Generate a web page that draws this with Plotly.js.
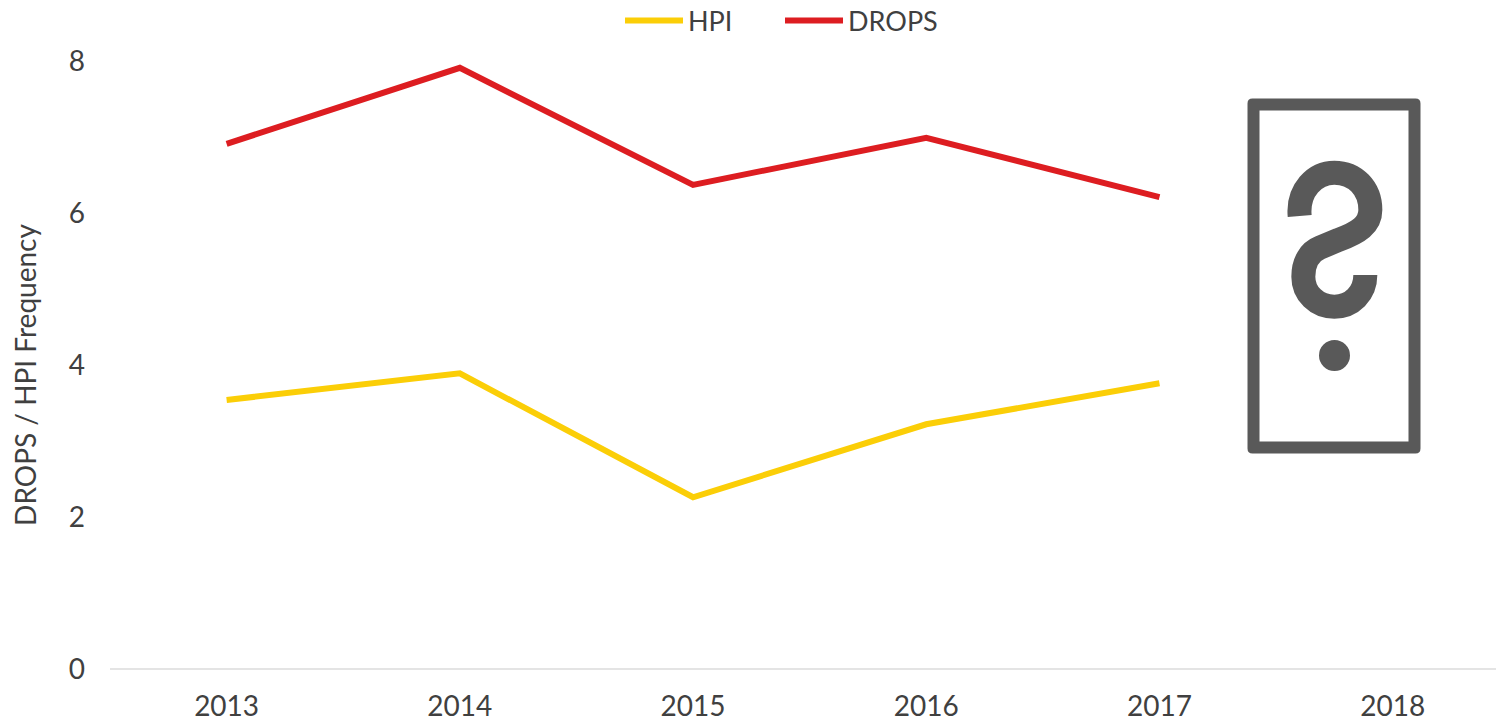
<!DOCTYPE html>
<html><head><meta charset="utf-8">
<script src="https://cdn.plot.ly/plotly-3.0.1.min.js"></script>
<style>html,body{margin:0;padding:0;background:#fff;overflow:hidden}#c{width:1496px;height:721px}</style>
</head><body><div id="c"></div>
<script>
const years = ['2013','2014','2015','2016','2017','2018'];
const hpi = [3.54,3.89,2.26,3.22,3.76,null];
const drops = [6.91,7.91,6.37,6.99,6.21,null];
const yTicks = [0,2,4,6,8];
const W=1496,H=721,L=110,R=0,T=61,B=32;
const px=x=>((x-L)/(W-L-R)).toFixed(5);
const py=y=>((H-B-y)/(H-T-B)).toFixed(5);
const P=(x,y)=>px(x)+','+py(y);
const Z=(zx,zy)=>P(1220+zx/3,80+zy/3);
const iconColor='#595959';
function rounded(x0,y0,x1,y1,r){
  return 'M'+P(x0+r,y0)+' L'+P(x1-r,y0)+' Q'+P(x1,y0)+' '+P(x1,y0+r)+' L'+P(x1,y1-r)+' Q'+P(x1,y1)+' '+P(x1-r,y1)+
   ' L'+P(x0+r,y1)+' Q'+P(x0,y1)+' '+P(x0,y1-r)+' L'+P(x0,y0+r)+' Q'+P(x0,y0)+' '+P(x0+r,y0)+' Z';
}
const frame=rounded(1247.5,98.5,1420.5,453.5,5)+' M'+P(1259.5,110.5)+' L'+P(1408.5,110.5)+' L'+P(1408.5,441.5)+' L'+P(1259.5,441.5)+' Z';
const hook='M'+Z(239,408)+' C'+Z(232,330)+' '+Z(285,278)+' '+Z(343,278)+' C'+Z(405,278)+' '+Z(451,325)+' '+Z(451,390)+
 ' C'+Z(451,435)+' '+Z(415,458)+' '+Z(355,480)+' L'+Z(300,503)+' C'+Z(270,515)+' '+Z(250,545)+' '+Z(250,590)+
 ' C'+Z(250,640)+' '+Z(290,680)+' '+Z(343,680)+' C'+Z(395,680)+' '+Z(436,640)+' '+Z(436,585);
const base={xref:'paper',yref:'paper',layer:'above'};
const shapes=[
 {...base,type:'path',path:frame,fillcolor:iconColor,line:{width:0}},
 {...base,type:'path',path:hook,line:{color:iconColor,width:24},fillcolor:'rgba(0,0,0,0)'},
 {...base,type:'circle',x0:px(1319),x1:px(1350),y0:py(371),y1:py(340),fillcolor:iconColor,line:{width:0}}
];
const font='Lato, "Open Sans", sans-serif', txt='#404040';
const traces=[
 {name:'HPI',x:years,y:hpi,mode:'lines',line:{color:'#FBCE07',width:6},hoverinfo:'x+y+name'},
 {name:'DROPS',x:years,y:drops,mode:'lines',line:{color:'#DD1D21',width:6},hoverinfo:'x+y+name'}
];
const layout={
 width:W,height:H,margin:{l:L,r:R,t:T,b:B,pad:0,autoexpand:false},
 paper_bgcolor:'#fff',plot_bgcolor:'#fff',
 font:{family:font,color:txt,size:28},
 showlegend:true,
 legend:{orientation:'h',x:px(620),xanchor:'left',y:py(21),yanchor:'middle',itemwidth:58,entrywidth:87,entrywidthmode:'pixels',font:{family:font,size:27,color:txt},bgcolor:'rgba(0,0,0,0)',traceorder:'normal'},
 xaxis:{type:'category',categoryorder:'array',categoryarray:years,range:[-0.5,5.443],showgrid:false,showline:false,zeroline:false,ticks:'',tickfont:{family:font,size:28,color:txt},ticklabelstandoff:-2,automargin:false,fixedrange:true},
 yaxis:{range:[-0.263,8],tickvals:yTicks,ticktext:yTicks.map(String),showgrid:false,showline:false,zeroline:true,zerolinecolor:'#E4E4E4',zerolinewidth:2,ticks:'',tickfont:{family:font,size:28,color:txt},ticklabelstandoff:24,
  title:{text:'DROPS / HPI Frequency',font:{family:font,size:28,color:txt},standoff:23},automargin:false,fixedrange:true},
 shapes
};
Plotly.newPlot('c',traces,layout,{displayModeBar:false,staticPlot:true});
</script></body></html>
